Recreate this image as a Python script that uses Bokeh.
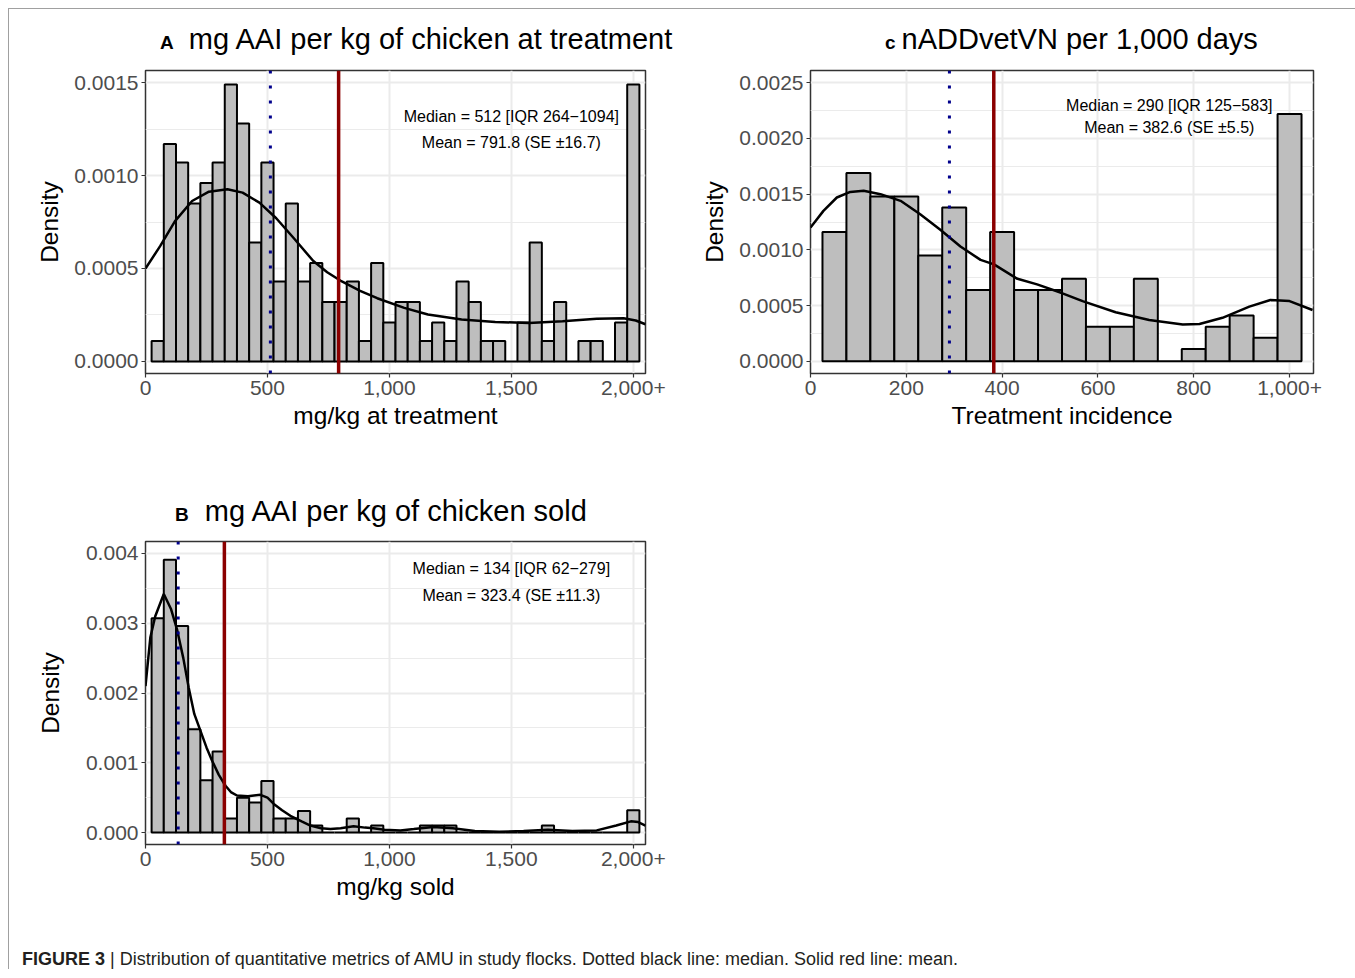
from bokeh.plotting import figure
from bokeh.models import (Range1d, FixedTicker, Span, Label, Div,
                          CustomJSTickFormatter, ColumnDataSource)
from bokeh.layouts import column, row
from bokeh.embed import file_html
from bokeh.resources import INLINE

FONT = "Liberation Sans"

# ---------------- data ----------------
bin_width = 50

# Panel A: mg AAI per kg of chicken at treatment
a_tag = "A"
a_title = "mg AAI per kg of chicken at treatment"
a_xlabel = "mg/kg at treatment"
a_bin_centers = list(range(50, 2001, 50))
a_density = [0.00011, 0.00117, 0.00107, 0.00085, 0.00096, 0.00107, 0.00149, 0.00128, 0.00064, 0.00107,
             0.00043, 0.00085, 0.00043, 0.00053, 0.00032, 0.00032, 0.00043, 0.00011, 0.00053, 0.00021,
             0.00032, 0.00032, 0.00011, 0.00021, 0.00011, 0.00043, 0.00032, 0.00011, 0.00011, 0.0,
             0.00021, 0.00064, 0.00011, 0.00032, 0.0, 0.00011, 0.00011, 0.0, 0.00021, 0.00149]
a_kde_x = [0, 60, 121, 191, 260, 336, 398, 467, 536, 610, 688, 745, 805, 880, 950, 1061, 1158,
           1296, 1434, 1572, 1710, 1850, 1960, 2010, 2050]
a_kde_y = [0.0005, 0.00062, 0.000755, 0.000863, 0.000913, 0.000926, 0.000908, 0.000854, 0.00077,
           0.00066, 0.00054, 0.00048, 0.00043, 0.00038, 0.00034, 0.000288, 0.000252, 0.000225,
           0.000212, 0.000207, 0.000216, 0.00023, 0.000232, 0.00022, 0.0002]
a_median = 512
a_mean = 791.8
a_note1 = "Median = 512 [IQR 264\u22121094]"
a_note2 = "Mean = 791.8 (SE \u00b116.7)"
a_x_ticks = [0, 500, 1000, 1500, 2000]
a_x_labels = ["0", "500", "1,000", "1,500", "2,000+"]
a_y_ticks = [0.0, 0.0005, 0.001, 0.0015]
a_y_labels = ["0.0000", "0.0005", "0.0010", "0.0015"]
a_y_minor = [0.00025, 0.00075, 0.00125]

# Panel B: mg AAI per kg of chicken sold
b_tag = "B"
b_title = "mg AAI per kg of chicken sold"
b_xlabel = "mg/kg sold"
b_bin_centers = list(range(50, 2001, 50))
b_density = [0.00307, 0.00391, 0.00296, 0.00148, 0.00075, 0.00116, 0.0002, 0.0005, 0.00043, 0.00074,
             0.0002, 0.0002, 0.00031, 0.0001, 0.0, 0.0, 0.0002, 0.0, 0.0001, 0.0,
             0.0, 0.0, 0.0001, 0.0001, 0.0001, 0.0, 0.0, 0.0, 0.0, 0.0,
             0.0, 0.0, 0.0001, 0.0, 0.0, 0.0, 0.0, 0.0, 0.0, 0.00032]
b_kde_x = [0, 20, 40, 75, 105, 130, 155, 177, 200, 225, 250, 273, 300, 328, 350, 375, 420, 471,
           500, 526, 560, 594, 640, 676, 720, 758, 800, 853, 900, 934, 980, 1045, 1100, 1180,
           1260, 1350, 1450, 1550, 1650, 1750, 1850, 1930, 1990, 2020, 2050]
b_kde_y = [0.0021, 0.0028, 0.0031, 0.00342, 0.0032, 0.0029, 0.0025, 0.00208, 0.0017, 0.00146,
           0.00122, 0.00103, 0.00083, 0.00067, 0.00058, 0.00053, 0.00052, 0.00054, 0.0005,
           0.00041, 0.00032, 0.00024, 0.00016, 0.0001, 0.00006, 0.00005, 0.00006, 0.00009,
           0.00007, 0.00006, 0.00004, 0.00003, 0.00005, 0.00008, 0.00006, 0.00002, 0.00001,
           0.00002, 0.00004, 0.00002, 0.00003, 0.0001, 0.00016, 0.00015, 0.0001]
b_median = 134
b_mean = 323.4
b_note1 = "Median = 134 [IQR 62\u2212279]"
b_note2 = "Mean = 323.4 (SE \u00b111.3)"
b_x_ticks = [0, 500, 1000, 1500, 2000]
b_x_labels = ["0", "500", "1,000", "1,500", "2,000+"]
b_y_ticks = [0.0, 0.001, 0.002, 0.003, 0.004]
b_y_labels = ["0.000", "0.001", "0.002", "0.003", "0.004"]
b_y_minor = [0.0005, 0.0015, 0.0025, 0.0035]

# Panel C: nADDvetVN per 1,000 days
c_tag = "c"
c_title = "nADDvetVN per 1,000 days"
c_xlabel = "Treatment incidence"
c_bin_centers = list(range(50, 1001, 50))
c_density = [0.00116, 0.00169, 0.00148, 0.00148, 0.00095, 0.00138, 0.00064, 0.00116, 0.00064, 0.00064,
             0.00074, 0.00031, 0.00031, 0.00074, 0.0, 0.00011, 0.00031, 0.00041, 0.00021, 0.00222]
c_kde_x = [0, 27, 55, 83, 111, 146, 188, 229, 271, 313, 355, 383, 432, 473, 526, 568, 637, 707,
           777, 812, 860, 916, 960, 1000, 1048]
c_kde_y = [0.0012, 0.00135, 0.00147, 0.00152, 0.00153, 0.0015, 0.00144, 0.00132, 0.00118, 0.00103,
           0.00091, 0.00087, 0.00074, 0.00069, 0.00061, 0.00054, 0.00044, 0.00037, 0.00033,
           0.000335, 0.00039, 0.00049, 0.00055, 0.00054, 0.00046]
c_median = 290
c_mean = 382.6
c_note1 = "Median = 290 [IQR 125\u2212583]"
c_note2 = "Mean = 382.6 (SE \u00b15.5)"
c_x_ticks = [0, 200, 400, 600, 800, 1000]
c_x_labels = ["0", "200", "400", "600", "800", "1,000+"]
c_y_ticks = [0.0, 0.0005, 0.001, 0.0015, 0.002, 0.0025]
c_y_labels = ["0.0000", "0.0005", "0.0010", "0.0015", "0.0020", "0.0025"]
c_y_minor = [0.00025, 0.00075, 0.00125, 0.00175, 0.00225]

caption_bold = "FIGURE 3"
caption_text = ("Distribution of quantitative metrics of AMU in study flocks. "
                "Dotted black line: median. Solid red line: mean.")


def tick_formatter(labels):
    return CustomJSTickFormatter(args=dict(labels=labels),
                                 code="return labels[index] ?? '';")


def make_header(total_w, h, tag, title, pad_left, gap, pad_top):
    html = (f"<div style=\"font-family:'Liberation Sans',Arial,sans-serif;color:black;"
            f"white-space:nowrap;padding-left:{pad_left}px;padding-top:{pad_top}px;"
            f"line-height:33px;\">"
            f"<span style=\"font-size:19px;font-weight:bold;\">{tag}</span>"
            f"<span style=\"font-size:29px;margin-left:{gap}px;\">{title}</span></div>")
    return Div(text=html, width=total_w, height=h, margin=0)


def make_panel(xlabel, centers, density, kde_x, kde_y, median, mean,
               note1, note2, note_x, note_y1, note_y2,
               x_ticks, x_labels, y_ticks, y_labels, y_minor,
               x_range, y_range, frame_w, borders, ylab_standoff):
    left_b, right_b, top_b, bottom_b = borders
    p = figure(frame_width=frame_w, frame_height=303,
               x_range=Range1d(*x_range), y_range=Range1d(*y_range),
               output_backend="svg", toolbar_location=None,
               min_border_left=left_b, min_border_right=right_b,
               min_border_top=top_b, min_border_bottom=bottom_b,
               background_fill_color="white", border_fill_color="white")
    p.outline_line_color = "#333333"
    p.outline_line_width = 1.5

    xt = FixedTicker(ticks=x_ticks)
    yt = FixedTicker(ticks=y_ticks, minor_ticks=y_minor)
    p.xaxis.ticker = xt
    p.yaxis.ticker = yt
    p.xgrid.ticker = xt
    p.ygrid.ticker = yt
    p.xaxis.formatter = tick_formatter(x_labels)
    p.yaxis.formatter = tick_formatter(y_labels)

    p.xgrid.grid_line_color = "#EBEBEB"
    p.xgrid.grid_line_width = 2
    p.ygrid.grid_line_color = "#EBEBEB"
    p.ygrid.grid_line_width = 2
    p.ygrid.minor_grid_line_color = "#EBEBEB"
    p.ygrid.minor_grid_line_width = 1.2

    for ax in (p.xaxis[0], p.yaxis[0]):
        ax.axis_line_color = None
        ax.major_tick_line_color = "#333333"
        ax.major_tick_line_width = 1.2
        ax.major_tick_out = 4
        ax.major_tick_in = 0
        ax.minor_tick_line_color = None
        ax.major_label_text_font = FONT
        ax.major_label_text_font_size = "21px"
        ax.major_label_text_color = "#4D4D4D"
        ax.major_label_standoff = 3
        ax.axis_label_text_font = FONT
        ax.axis_label_text_font_size = "24.5px"
        ax.axis_label_text_font_style = "normal"
        ax.axis_label_text_color = "black"
    p.xaxis.axis_label = xlabel
    p.yaxis.axis_label = "Density"
    p.xaxis.axis_label_standoff = 4
    p.yaxis.axis_label_standoff = ylab_standoff

    src = ColumnDataSource(dict(
        left=[c - bin_width / 2 for c in centers],
        right=[c + bin_width / 2 for c in centers],
        top=density,
        bottom=[0.0] * len(density)))
    p.quad(left="left", right="right", top="top", bottom="bottom", source=src,
           fill_color="#BEBEBE", line_color="black", line_width=2)
    p.line(kde_x, kde_y, line_color="black", line_width=2.5)

    p.add_layout(Span(location=median, dimension="height", line_color="#00008B",
                      line_width=3, line_dash="3 12"))
    p.add_layout(Span(location=mean, dimension="height", line_color="#8B0000",
                      line_width=3.5))

    for txt, yy in ((note1, note_y1), (note2, note_y2)):
        p.add_layout(Label(x=note_x, y=yy, text=txt, text_align="center",
                           text_baseline="middle", text_font=FONT,
                           text_font_size="16px", text_color="black"))
    return p


# widths: A/B figure = 136 + 500 + 25 = 661 ; C figure = 140 + 503 + 30 = 673
hA = make_header(661, 55, a_tag, a_title, 151, 15, 14)
pA = make_panel(a_xlabel, a_bin_centers, a_density, a_kde_x, a_kde_y,
                a_median, a_mean, a_note1, a_note2, 1500, 0.00132, 0.001176,
                a_x_ticks, a_x_labels, a_y_ticks, a_y_labels, a_y_minor,
                (0, 2050), (-0.000065, 0.001565), 500, (136, 25, 6, 75), 8)

hC = make_header(673, 55, c_tag, c_title, 215, 6, 14)
pC = make_panel(c_xlabel, c_bin_centers, c_density, c_kde_x, c_kde_y,
                c_median, c_mean, c_note1, c_note2, 749, 0.0023, 0.0021,
                c_x_ticks, c_x_labels, c_y_ticks, c_y_labels, c_y_minor,
                (0, 1050), (-0.00011, 0.00261), 503, (140, 30, 6, 75), 8)

hB = make_header(661, 85, b_tag, b_title, 166, 16, 47)
pB = make_panel(b_xlabel, b_bin_centers, b_density, b_kde_x, b_kde_y,
                b_median, b_mean, b_note1, b_note2, 1500, 0.003785, 0.0034,
                b_x_ticks, b_x_labels, b_y_ticks, b_y_labels, b_y_minor,
                (0, 2050), (-0.000172, 0.004172), 500, (136, 25, 8, 75), 19)

caption = Div(
    text=(f"<div style=\"font-family:'Liberation Sans',Arial,sans-serif;font-size:18px;"
          f"color:#231F20;padding-left:13px;padding-top:28px;white-space:nowrap;\">"
          f"<b>{caption_bold}</b> | {caption_text}</div>"),
    width=1300, height=50, margin=0)

layout = column(row(column(hA, pA), column(hC, pC)), column(hB, pB), caption, width=1347,
                styles={"margin-left": "8px", "margin-top": "8px",
                        "border-top": "1px solid #A0A0A0",
                        "border-left": "1px solid #A0A0A0"})

open("out.html", "w").write(file_html(layout, INLINE))
